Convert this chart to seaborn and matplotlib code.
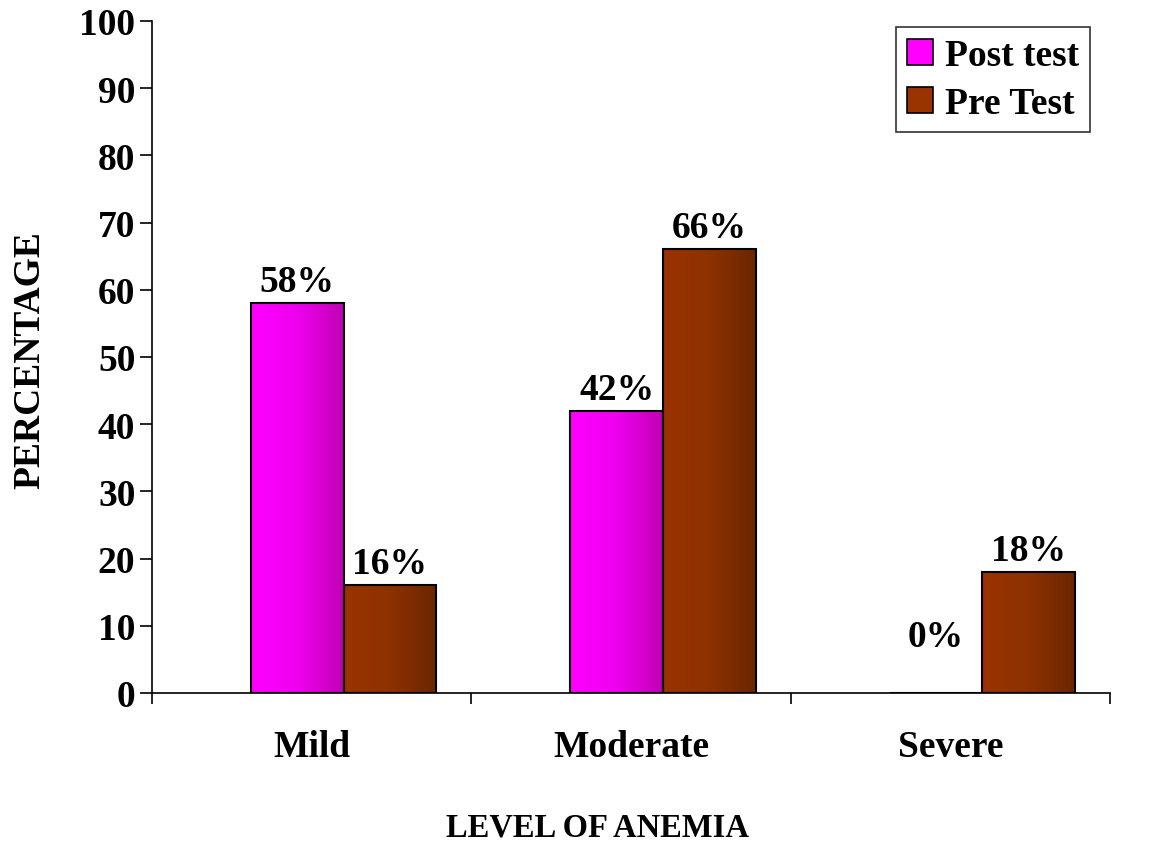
import numpy as np
import pandas as pd
import matplotlib
matplotlib.use("Agg")
import matplotlib.pyplot as plt
from matplotlib.colors import LinearSegmentedColormap
import seaborn as sns

levels = ["Mild", "Moderate", "Severe"]
post_test = [58, 42, 0]
pre_test = [16, 66, 18]
series = ["Post test", "Pre Test"]

df = pd.DataFrame({
    "level": levels * 2,
    "value": post_test + pre_test,
    "group": [series[0]] * 3 + [series[1]] * 3,
})

sns.set_style("white")
plt.rcParams["font.family"] = ["Liberation Serif", "DejaVu Serif"]
plt.rcParams["font.weight"] = "bold"
for k in ["text.color", "axes.labelcolor", "xtick.color", "ytick.color", "axes.edgecolor"]:
    plt.rcParams[k] = "black"

base = {"Post test": "#FF00FF", "Pre Test": "#993300"}
grads = {
    "Post test": LinearSegmentedColormap.from_list("post", ["#FF00FF", "#F000F0", "#C000B4"]),
    "Pre Test": LinearSegmentedColormap.from_list("pre", ["#9A3300", "#8E3100", "#6A2600"]),
}

fig = plt.figure(figsize=(11.57, 8.45), dpi=100)
ax = fig.add_axes([0.1314, 0.1787, 0.828, 0.7953])

sns.barplot(data=df, x="level", y="value", hue="group", hue_order=series,
            order=levels, palette=base, width=0.58, edgecolor="black",
            linewidth=1.5, saturation=1, legend=False, ax=ax)

# gradient fill for each bar
grad = np.linspace(0, 1, 256).reshape(1, -1)
for i, patch in enumerate(ax.patches[:6]):
    name = series[i // 3]
    x0, y0 = patch.get_x(), patch.get_y()
    w, h = patch.get_width(), patch.get_height()
    if h <= 0:
        continue
    im = ax.imshow(grad, cmap=grads[name], aspect="auto",
                   extent=[x0, x0 + w, y0, y0 + h], zorder=patch.get_zorder() - 0.1)
    im.set_clip_path(patch)
    patch.set_facecolor("none")
ax.set_xlim(-0.6, 2.4)
ax.set_ylim(0, 100)

# value labels
for i, patch in enumerate(ax.patches[:6]):
    val = (post_test + pre_test)[i]
    xc = patch.get_x() + patch.get_width() / 2
    off = 28 if val == 0 else 3
    ax.annotate(f"{val}%", (xc, val), xytext=(0, off), textcoords="offset points",
                ha="center", va="bottom", fontsize=27, fontweight="bold")

# axes styling
for s in ["top", "right"]:
    ax.spines[s].set_visible(False)
ax.spines["left"].set_linewidth(1.2)
ax.spines["bottom"].set_linewidth(1.2)

ax.set_yticks(np.arange(0, 101, 10))
ax.tick_params(axis="y", direction="out", length=9, width=1.2, labelsize=27, pad=3, left=True)
ax.set_xticks([-0.6, 0.4, 1.4, 2.4])
ax.set_xticklabels([])
ax.tick_params(axis="x", which="major", direction="out", length=8, width=1.2, bottom=True)
ax.set_xticks([-0.1, 0.9, 1.9], minor=True)
ax.set_xticklabels(levels, minor=True)
ax.tick_params(axis="x", which="minor", length=0, labelsize=27, pad=26)
for t in ax.get_yticklabels() + ax.get_xticklabels(minor=True):
    t.set_fontweight("bold")

ax.set_ylabel("PERCENTAGE", fontsize=27, fontweight="bold")
ax.yaxis.label.set_va("center")
ax.yaxis.set_label_coords(-0.127, 0.497)
ax.set_xlabel("LEVEL OF ANEMIA", fontsize=23.5, fontweight="bold")
ax.xaxis.label.set_va("center")
ax.xaxis.set_label_coords(0.4645, -0.199)

handles = [plt.Rectangle((0, 0), 1, 1, facecolor=base[s], edgecolor="black", linewidth=1.2) for s in series]
leg = ax.legend(handles, series, loc="upper right", bbox_to_anchor=(0.985, 1.0),
                fontsize=27, frameon=True, fancybox=False, edgecolor="black",
                handlelength=0.7, handleheight=0.7, handletextpad=0.3, borderpad=0.3,
                labelspacing=0.35, borderaxespad=0.15)
leg.get_frame().set_linewidth(1.2)
for t in leg.get_texts():
    t.set_fontweight("bold")

fig.savefig("out.png", dpi=100)
